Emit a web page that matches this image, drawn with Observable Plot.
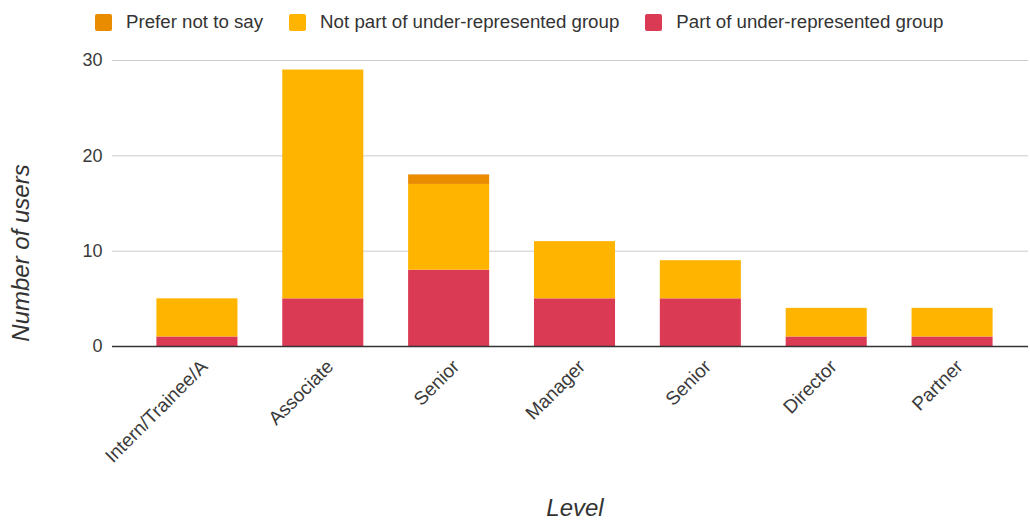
<!DOCTYPE html>
<html>
<head>
<meta charset="utf-8">
<script src="https://cdn.jsdelivr.net/npm/d3@7"></script>
<script src="https://cdn.jsdelivr.net/npm/@observablehq/plot@0.6"></script>
<style>
  html, body { margin: 0; padding: 0; background: #fff; }
  #wrap { position: relative; width: 1030px; height: 521px; font-family: "Liberation Sans", Arial, sans-serif; }
  #legend { position: absolute; left: 95px; top: 11px; display: flex; align-items: center; font-size: 18.7px; color: #333; white-space: nowrap; }
  #legend .item { display: flex; align-items: center; margin-right: 26px; }
  #legend .sw { width: 17px; height: 17px; border-radius: 2px; margin-right: 14px; }
  .title { position: absolute; font-size: 24px; font-style: italic; color: #333; white-space: nowrap; }
  #ytitle { left: 21px; top: 253px; transform: translate(-50%, -50%) rotate(-90deg); }
  #xtitle { left: 575px; top: 508px; transform: translate(-50%, -50%); }
  svg { position: absolute; left: 0; top: 0; }
</style>
</head>
<body>
<div id="wrap">
  <div id="legend"></div>
  <div class="title" id="ytitle">Number of users</div>
  <div class="title" id="xtitle">Level</div>
</div>
<script>
// Career level of each bar (the two "Senior" columns are kept apart by position)
const levels = ["Intern/Trainee/A", "Associate", "Senior", "Manager", "Senior", "Director", "Partner"];

// Users per level, by group
const partOfGroup    = [1, 5, 8, 5, 5, 1, 1];
const notPartOfGroup = [4, 24, 9, 6, 4, 3, 3];
const preferNotToSay = [0, 0, 1, 0, 0, 0, 0];

// Series, bottom to top of each stack
const groups = ["Part of under-represented group", "Not part of under-represented group", "Prefer not to say"];
const groupColors = ["#db3a55", "#ffb400", "#e98c00"];

// Legend order (left to right)
const legendOrder = ["Prefer not to say", "Not part of under-represented group", "Part of under-represented group"];

const yTicks = [0, 10, 20, 30];

const seriesValues = [partOfGroup, notPartOfGroup, preferNotToSay];
const rows = [];
levels.forEach((level, i) => {
  groups.forEach((g, k) => {
    rows.push({ key: i, level, group: g, value: seriesValues[k][i] });
  });
});

const chart = Plot.plot({
  width: 1030,
  height: 521,
  marginLeft: 112,
  marginRight: 2,
  marginTop: 60,
  marginBottom: 175,
  style: { fontFamily: "'Liberation Sans', Arial, sans-serif", fontSize: "18px", color: "#3a3a3a", background: "transparent" },
  x: {
    domain: d3.range(levels.length),
    range: [134, 1015],
    paddingInner: 0.356,
    paddingOuter: 0.178,
    round: false,
    label: null
  },
  y: { domain: [0, 30], label: null },
  color: { domain: groups, range: groupColors },
  marks: [
    Plot.ruleY(yTicks.filter(d => d > 0), { stroke: "#cccccc", strokeWidth: 1 }),
    Plot.barY(rows.filter(d => d.value > 0), {
      x: "key", y: "value", fill: "group", inset: 0
    }),
    Plot.ruleY([0], { stroke: "#333", strokeWidth: 1.3 }),
    Plot.axisY({ ticks: yTicks, tickSize: 0, tickPadding: 10, label: null, fontSize: 18 }),
    Plot.axisX({
      tickSize: 0, tickPadding: 15, tickRotate: -45, label: null, fontSize: 19,
      dx: 7, dy: 2,
      tickFormat: i => levels[i]
    })
  ]
});

document.getElementById("wrap").appendChild(chart);

// Legend swatches
const legend = document.getElementById("legend");
legendOrder.forEach(name => {
  const item = document.createElement("div");
  item.className = "item";
  const sw = document.createElement("div");
  sw.className = "sw";
  sw.style.background = groupColors[groups.indexOf(name)];
  const label = document.createElement("span");
  label.textContent = name;
  item.appendChild(sw);
  item.appendChild(label);
  legend.appendChild(item);
});
</script>
</body>
</html>
